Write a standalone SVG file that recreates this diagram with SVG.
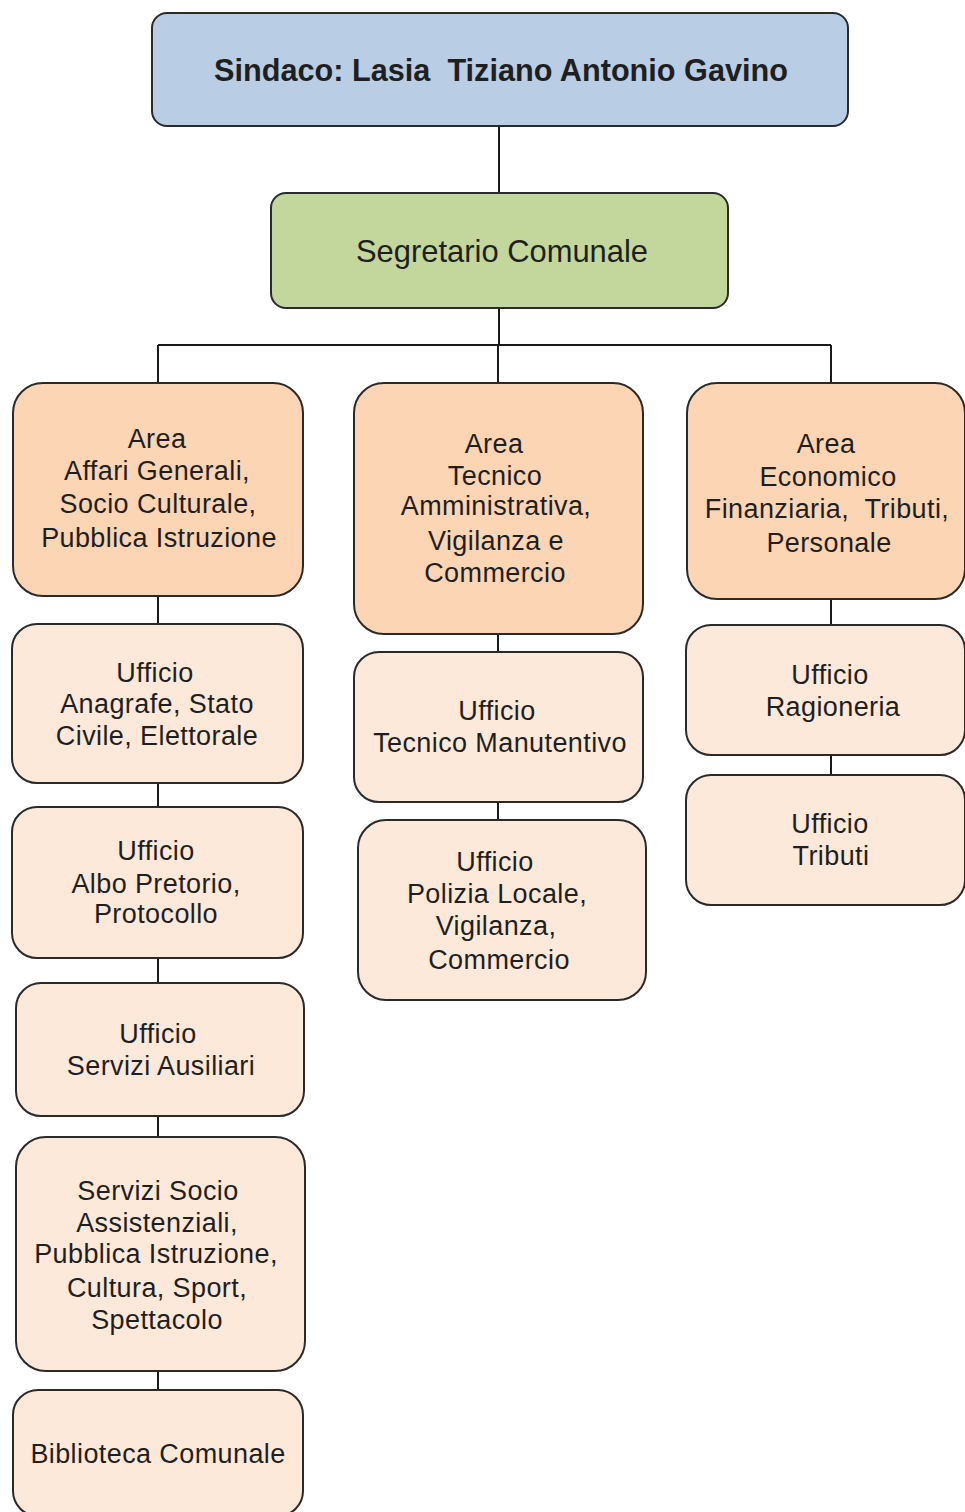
<svg xmlns="http://www.w3.org/2000/svg" width="965" height="1512" viewBox="0 0 965 1512">
<style>
.box{stroke:#2a2a2a;stroke-width:2}
.top{fill:#b9cde5}
.sec{fill:#c3d69b}
.area{fill:#fcd5b5}
.sub{fill:#fde9d9}
.conn{stroke:#1a1a1a;stroke-width:2;fill:none}
text{font-family:"Liberation Sans",Arial,sans-serif;fill:#1f1f1f;text-anchor:middle}
.t{font-size:27px;letter-spacing:0.4px}
</style>
<rect width="965" height="1512" fill="#ffffff"/>
<g id="connectors">
<path class="conn" d="M499 126V193M499 308V345M158 345H831M158 345V383M498 345V383M831 345V383"/>
<path class="conn" d="M158 596V624M158 783V807M158 958V983M158 1116V1137M158 1371V1390"/>
<path class="conn" d="M498 634V652M498 802V820"/>
<path class="conn" d="M831 599V625M831 755V775"/>
</g>
<g id="sindaco">
<rect class="box top" x="152" y="13" width="696" height="113" rx="15"/>
<text x="501" y="81" font-size="32" font-weight="bold" textLength="574" lengthAdjust="spacingAndGlyphs" xml:space="preserve">Sindaco: Lasia  Tiziano Antonio Gavino</text>
</g>
<g id="segretario">
<rect class="box sec" x="271" y="193" width="457" height="115" rx="15"/>
<text x="502" y="262" font-size="32" textLength="292" lengthAdjust="spacingAndGlyphs">Segretario Comunale</text>
</g>
<g id="area-affari">
<rect class="box area" x="13" y="383" width="290" height="213" rx="30"/>
<text class="t" x="157" y="448">Area</text>
<text class="t" x="157" y="480">Affari Generali,</text>
<text class="t" x="158" y="513">Socio Culturale,</text>
<text class="t" x="159" y="547">Pubblica Istruzione</text>
</g>
<g id="area-tecnico">
<rect class="box area" x="354" y="383" width="289" height="251" rx="30"/>
<text class="t" x="494" y="453">Area</text>
<text class="t" x="495" y="485">Tecnico</text>
<text class="t" x="496" y="515">Amministrativa,</text>
<text class="t" x="496" y="550">Vigilanza e</text>
<text class="t" x="495" y="582">Commercio</text>
</g>
<g id="area-economico">
<rect class="box area" x="687" y="383" width="278" height="216" rx="30"/>
<text class="t" x="826" y="453">Area</text>
<text class="t" x="828" y="486">Economico</text>
<text class="t" x="827" y="518" xml:space="preserve">Finanziaria,  Tributi,</text>
<text class="t" x="829" y="552">Personale</text>
</g>
<g id="uff-anagrafe">
<rect class="box sub" x="12" y="624" width="291" height="159" rx="25"/>
<text class="t" x="155" y="682">Ufficio</text>
<text class="t" x="157" y="713">Anagrafe, Stato</text>
<text class="t" x="157" y="745">Civile, Elettorale</text>
</g>
<g id="uff-albo">
<rect class="box sub" x="12" y="807" width="291" height="151" rx="25"/>
<text class="t" x="156" y="860">Ufficio</text>
<text class="t" x="156" y="893">Albo Pretorio,</text>
<text class="t" x="156" y="923">Protocollo</text>
</g>
<g id="uff-ausiliari">
<rect class="box sub" x="16" y="983" width="288" height="133" rx="25"/>
<text class="t" x="158" y="1043">Ufficio</text>
<text class="t" x="161" y="1075">Servizi Ausiliari</text>
</g>
<g id="servizi-socio">
<rect class="box sub" x="16" y="1137" width="289" height="234" rx="30"/>
<text class="t" x="158" y="1200">Servizi Socio</text>
<text class="t" x="157" y="1232">Assistenziali,</text>
<text class="t" x="156" y="1263">Pubblica Istruzione,</text>
<text class="t" x="157" y="1297">Cultura, Sport,</text>
<text class="t" x="157" y="1329">Spettacolo</text>
</g>
<g id="biblioteca">
<rect class="box sub" x="13" y="1390" width="290" height="126" rx="25"/>
<text class="t" x="158" y="1463">Biblioteca Comunale</text>
</g>
<g id="uff-tecnico">
<rect class="box sub" x="354" y="652" width="289" height="150" rx="25"/>
<text class="t" x="497" y="720">Ufficio</text>
<text class="t" x="500" y="752">Tecnico Manutentivo</text>
</g>
<g id="uff-polizia">
<rect class="box sub" x="358" y="820" width="288" height="180" rx="28"/>
<text class="t" x="495" y="871">Ufficio</text>
<text class="t" x="497" y="903">Polizia Locale,</text>
<text class="t" x="496" y="935">Vigilanza,</text>
<text class="t" x="499" y="969">Commercio</text>
</g>
<g id="uff-ragioneria">
<rect class="box sub" x="686" y="625" width="279" height="130" rx="25"/>
<text class="t" x="830" y="684">Ufficio</text>
<text class="t" x="833" y="716">Ragioneria</text>
</g>
<g id="uff-tributi">
<rect class="box sub" x="686" y="775" width="279" height="130" rx="25"/>
<text class="t" x="830" y="833">Ufficio</text>
<text class="t" x="831" y="865">Tributi</text>
</g>
</svg>
